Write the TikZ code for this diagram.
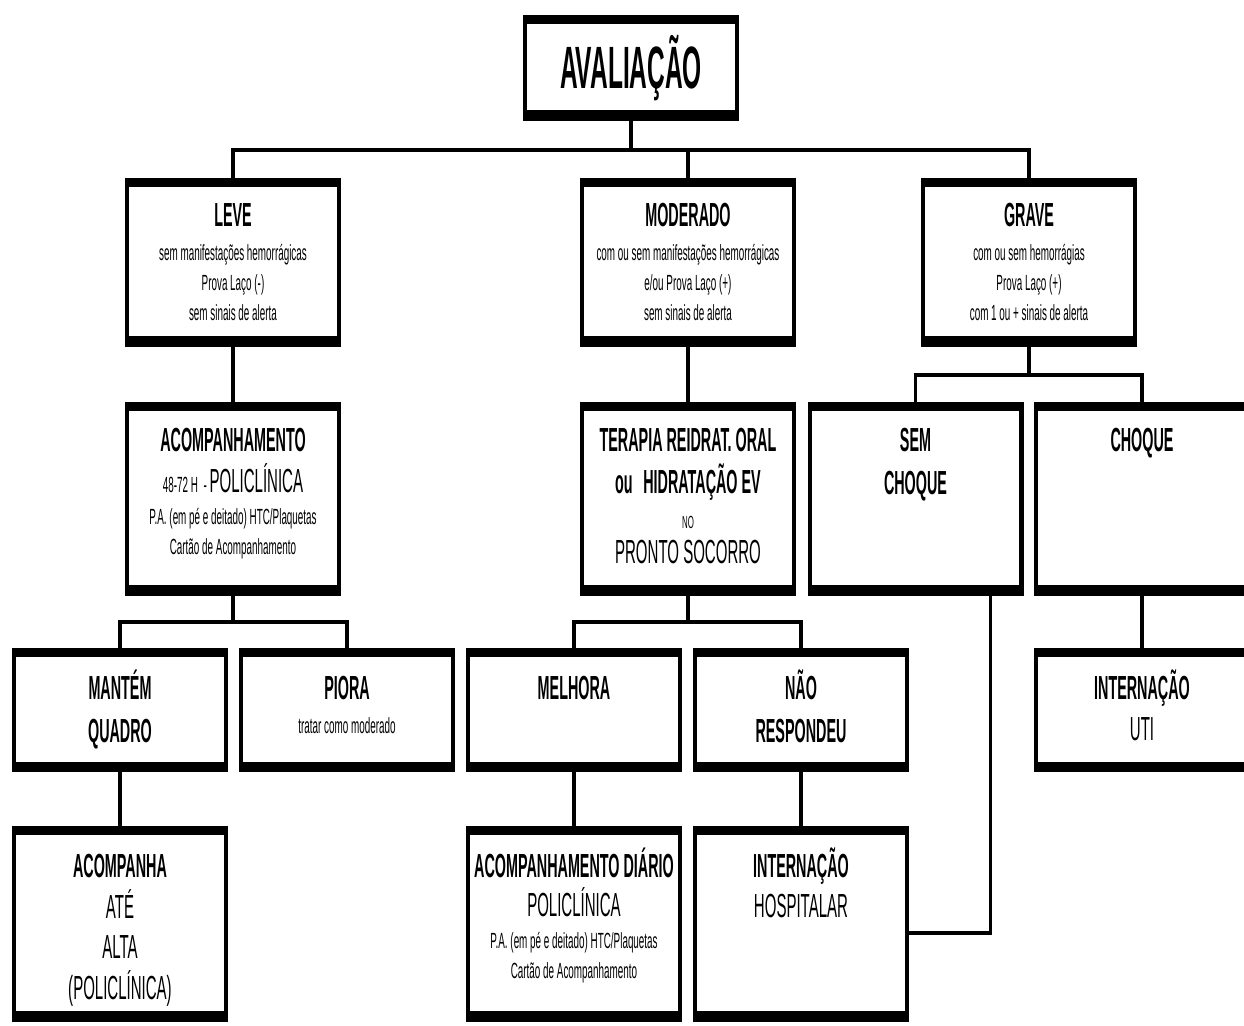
\documentclass[tikz,border=0pt]{standalone}
\usepackage{fontspec}
\setmainfont{Liberation Sans}[FakeStretch=0.45]
\newfontfamily\estreita{Liberation Sans}[FakeStretch=0.41]
\newfontfamily\cabecafam{Liberation Sans}[FakeStretch=0.43]
\usetikzlibrary{calc,positioning}
\newcommand{\titulo}{\estreita\fontsize{34}{40}\selectfont\bfseries}
\newcommand{\cabeca}{\cabecafam\fontsize{19}{22}\selectfont\bfseries}
\newcommand{\grande}{\fontsize{19}{22}\selectfont}
\newcommand{\miudo}{\fontsize{10}{12}\selectfont}
\newcommand{\topo}{\rule{0pt}{18pt}}
\tikzset{
  caixa/.style={draw, line width=2.3pt, minimum width=4.24cm, inner sep=0pt,
    path picture={
      \fill (path picture bounding box.north west) rectangle ([yshift=-0.13cm]path picture bounding box.north east);
      \fill (path picture bounding box.south west) rectangle ([yshift=0.17cm]path picture bounding box.south east);}},
  linha1/.style={caixa, minimum height=3.30cm},
  linha2/.style={caixa, minimum height=3.80cm},
  linha3/.style={caixa, minimum height=2.40cm},
  linha4/.style={caixa, minimum height=3.84cm},
  texto/.style={align=center, inner sep=0pt, font=\fontsize{12.5}{17}\selectfont},
  liga/.style={line width=2.2pt}
}
\begin{document}
\begin{tikzpicture}[x=0.02cm,y=-0.02cm]
\useasboundingbox (0,0) rectangle (1244,1025);
\clip (0,0) rectangle (1244,1025);
% caixas
\node[caixa, minimum height=2.04cm, font=\titulo] (aval) at (631,68) {AVALIAÇÃO};
\node[linha1] (leve) at (233,262.5) {};
\node[linha1] (moderado) at (688,262.5) {};
\node[linha1] (grave) at (1029,262.5) {};
\node[linha2] (acomp) at (233,499) {};
\node[linha2] (terapia) at (688,499) {};
\node[linha2] (semchoque) at (915.5,499) {};
\node[linha2] (choque) at (1142,499) {};
\node[linha3] (mantem) at (120,710) {};
\node[linha3] (piora) at (347,710) {};
\node[linha3] (melhora) at (574,710) {};
\node[linha3] (nao) at (801,710) {};
\node[linha3] (uti) at (1142,710) {};
\node[linha4] (acompanha) at (120,924) {};
\node[linha4] (diario) at (574,924) {};
\node[linha4] (hospital) at (801,924) {};
% textos
\node[texto, below=0.34cm of leve.north] (leve-t) {\topo{\cabeca LEVE}\\[2.2pt] sem manifestações hemorrágicas\\ Prova Laço (-)\\ sem sinais de alerta};
\node[texto, below=0.34cm of moderado.north] (moderado-t) {\topo{\cabeca MODERADO}\\[2.2pt] com ou sem manifestações hemorrágicas\\ e/ou Prova Laço (+)\\ sem sinais de alerta};
\node[texto, below=0.34cm of grave.north] (grave-t) {\topo{\cabeca GRAVE}\\[2.2pt] com ou sem hemorrágias\\ Prova Laço (+)\\ com 1 ou + sinais de alerta};
\node[texto, below=0.36cm of acomp.north] (acomp-t) {\topo{\cabeca ACOMPANHAMENTO}\\[6.2pt] 48-72 H\ \ - {\grande POLICLÍNICA}\\[1.2pt] P.A. (em pé e deitado) HTC/Plaquetas\\ Cartão de Acompanhamento};
\node[texto, below=0.36cm of terapia.north] (terapia-t) {\topo{\cabeca TERAPIA REIDRAT. ORAL}\\[5.8pt] {\cabeca ou\hspace{6pt}HIDRATAÇÃO EV}\\[2.5pt] {\miudo NO}\\[3pt] {\grande PRONTO SOCORRO}};
\node[texto, below=0.36cm of semchoque.north] (semchoque-t) {\topo{\cabeca SEM}\\[7pt] {\cabeca CHOQUE}};
\node[texto, below=0.36cm of choque.north] (choque-t) {\topo{\cabeca CHOQUE}};
\node[texto, below=0.40cm of mantem.north] (mantem-t) {\topo{\cabeca MANTÉM}\\[7.2pt] {\cabeca QUADRO}};
\node[texto, below=0.40cm of piora.north] (piora-t) {\topo{\cabeca PIORA}\\[2.1pt] tratar como moderado};
\node[texto, below=0.40cm of melhora.north] (melhora-t) {\topo{\cabeca MELHORA}};
\node[texto, below=0.40cm of nao.north] (nao-t) {\topo{\cabeca NÃO}\\[7.2pt] {\cabeca RESPONDEU}};
\node[texto, below=0.40cm of uti.north] (uti-t) {\topo{\cabeca INTERNAÇÃO}\\[5pt] {\grande UTI}};
\node[texto, below=0.40cm of acompanha.north] (acompanha-t) {\topo{\cabeca ACOMPANHA}\\[6pt] {\grande ATÉ}\\[6pt] {\grande ALTA}\\[6pt] {\grande (POLICLÍNICA)}};
\node[texto, below=0.40cm of diario.north] (diario-t) {\topo{\cabeca ACOMPANHAMENTO DIÁRIO}\\[5pt] {\grande POLICLÍNICA}\\[1pt] P.A. (em pé e deitado) HTC/Plaquetas\\ Cartão de Acompanhamento};
\node[texto, below=0.40cm of hospital.north] (hospital-t) {\topo{\cabeca INTERNAÇÃO}\\[4.3pt] {\grande HOSPITALAR}};
% ligacoes
\coordinate (n1) at (631,150);
\coordinate (n2) at (1029,375);
\coordinate (n3) at (233,622);
\coordinate (n4) at (688,622);
\draw[liga] (aval) -- (n1);
\draw[liga] (leve.north) |- (n1) -| (grave.north);
\draw[liga] (moderado.north) -- (moderado.north |- n1);
\draw[liga] (grave) -- (n2);
\draw[liga] (semchoque.north) |- (n2) -| (choque.north);
\draw[liga] (acomp) -- (n3);
\draw[liga] (mantem.north) |- (n3) -| (piora.north);
\draw[liga] (terapia) -- (n4);
\draw[liga] (melhora.north) |- (n4) -| (nao.north);
\foreach \a/\b in {leve/acomp,moderado/terapia,choque/uti,mantem/acompanha,melhora/diario,nao/hospital}{\draw[liga] (\a) -- (\b);}
\draw[liga] ($(semchoque.south)+(75,0)$) |- ($(hospital.east)+(0,9)$);
\end{tikzpicture}
\end{document}
